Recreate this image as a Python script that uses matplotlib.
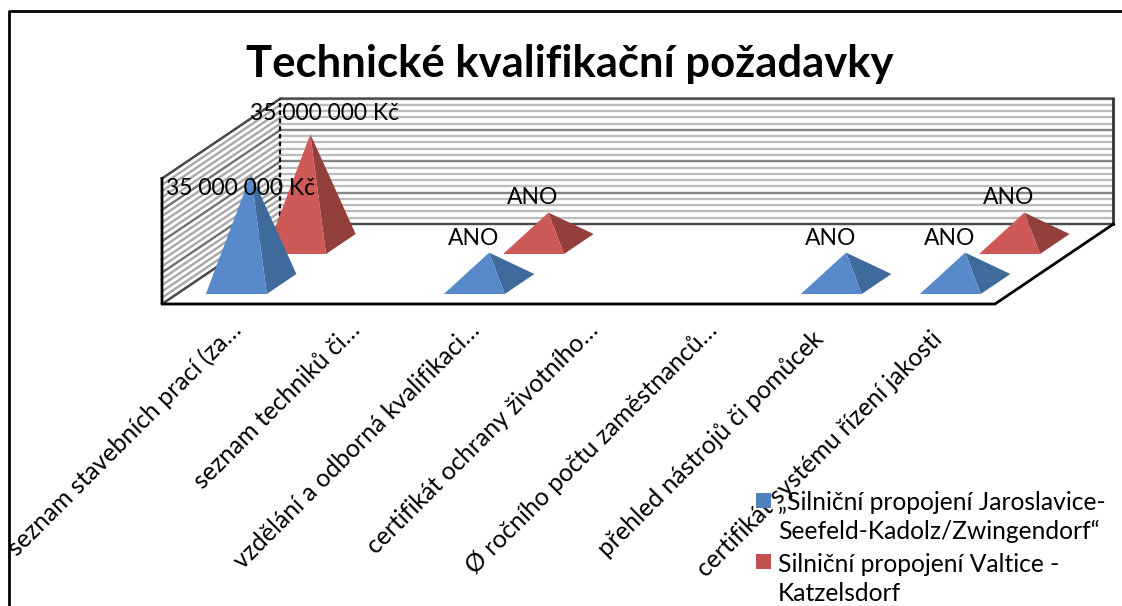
# Technical qualification requirements, 3D pyramid chart drawn by hand on a flat axes
import matplotlib
matplotlib.use("Agg")
import matplotlib.pyplot as plt
from matplotlib.patches import Polygon, Rectangle
import numpy as np

plt.rcParams['font.family'] = ['Lato', 'DejaVu Sans']

categories = ["seznam stavebních prací (za…", "seznam techniků či…",
              "vzdělání a odborná kvalifikaci…", "certifikát ochrany životního…",
              "Ø ročního počtu zaměstnanců…", "přehled nástrojů či pomůcek",
              "certifikát systému řízení jakosti"]
series_names = ["„Silniční propojení Jaroslavice-\nSeefeld-Kadolz/Zwingendorf“",
                "Silniční propojení Valtice -\nKatzelsdorf"]
# ANO bars are plotted at 10 mil., None = no bar
jaroslavice = [35000000, None, 10000000, None, None, 10000000, 10000000]
valtice = [35000000, None, 10000000, None, None, None, 10000000]
jaroslavice_labels = ["35 000 000 Kč", "", "ANO", "", "", "ANO", "ANO"]
valtice_labels = ["35 000 000 Kč", "", "ANO", "", "", "", "ANO"]
axis_max = 40000000
minor_step = 2000000
major_step = 10000000

# Chart box in pixels
left, right, floor_y = 162, 995, 304
depth_dx, depth_dy = 118.5, 80
wall_height = 125.5
half_w, half_d = 0.256, 0.125


def project(cat, depth, value=0):
    # cat in category units, depth 0..1 front to back
    x = left + (right - left) / len(categories) * cat + depth_dx * depth
    y = floor_y - depth_dy * depth - wall_height * value / axis_max
    return x, y


fig = plt.figure(figsize=(11.22, 6.06), dpi=100)
ax = fig.add_axes([0, 0, 1, 1])
ax.set_xlim(0, 1122)
ax.set_ylim(606, 0)
ax.axis('off')
n = len(categories)

# Outer frame
ax.plot([9, 9, 1122], [606, 11, 11], color='black', linewidth=2, zorder=1)

# Stripes on both walls
for v in np.arange(0, axis_max + 1, minor_step):
    major = v % major_step == 0
    back = [project(0, 1, v), project(n, 1, v)]
    side = [project(0, 0, v), project(0, 1, v)]
    ax.plot(*zip(*back), color='#858585' if major else '#bdbdbd', linewidth=1.7, zorder=2)
    ax.plot(*zip(*side), color='#707070' if major else '#a8a8a8', linewidth=1.7, zorder=2)

# Wall and floor edges
ax.plot(*zip(project(0, 0, axis_max), project(0, 1, axis_max), project(n, 1, axis_max)),
        color='#4a4a4a', linewidth=1.6, zorder=3)
ax.plot(*zip(project(0, 0), project(0, 1), project(n, 1)), color='#4a4a4a', linewidth=1.6, zorder=3)
ax.plot(*zip(project(n, 1), project(n, 1, axis_max)), color='#333333', linewidth=2, zorder=3)
ax.plot(*zip(project(0, 1), project(0, 1, axis_max)), color='black', linewidth=1.6,
        linestyle=(0, (2, 1.5)), zorder=3)
ax.plot(*zip(project(0, 0, axis_max), project(0, 0), project(n, 0), project(n, 1)),
        color='black', linewidth=2, zorder=3)


def pyramid(cat, depth, value, front_col, side_col, z):
    fl = project(cat - half_w, depth - half_d)
    fr = project(cat + half_w, depth - half_d)
    br = project(cat + half_w, depth + half_d)
    apex = project(cat, depth, value)
    ax.add_patch(Polygon([fr, br, apex], closed=True, facecolor=side_col, edgecolor='none', zorder=z))
    ax.add_patch(Polygon([fl, fr, apex], closed=True, facecolor=front_col, edgecolor='none', zorder=z))
    return apex


# Back row first so the front row covers it
for i, v in enumerate(valtice):
    if v is None:
        continue
    apex = pyramid(i + 0.5, 0.75, v, '#CE5A57', '#93403D', 4)
    off = (14, -21) if v > major_step else (-16, -15)
    ax.text(apex[0] + off[0], apex[1] + off[1], valtice_labels[i], fontsize=16.5, ha='center',
            va='center', color='black', zorder=7)
for i, v in enumerate(jaroslavice):
    if v is None:
        continue
    apex = pyramid(i + 0.5, 0.25, v, '#5889CB', '#3F6A9C', 5)
    off = (-11, 14) if v > major_step else (-15, -14)
    ax.text(apex[0] + off[0], apex[1] + off[1], jaroslavice_labels[i], fontsize=16.5, ha='center',
            va='center', color='black', zorder=7)

# Category labels, the untruncated ones sit a bit lower
for i, name in enumerate(categories):
    x, _ = project(i + 0.5, 0)
    shift = (0, 0) if name.endswith('…') else (-13, 9)
    ax.text(x + 16 + shift[0], 326 + shift[1], name, rotation=45, rotation_mode='anchor', ha='right',
            va='center', fontsize=17.8, color='black', zorder=8)

ax.text(570, 64, "Technické kvalifikační požadavky", fontsize=31.4, fontweight='bold', ha='center',
        va='center', color='black', zorder=8)

# Legend, text wraps over two lines for each entry
ax.add_patch(Rectangle((756, 493), 15, 15, facecolor='#4F81BD', edgecolor='none', zorder=8))
ax.add_patch(Rectangle((756, 554), 15, 15, facecolor='#C0504D', edgecolor='none', zorder=8))
ax.text(778, 517, series_names[0], fontsize=17.7, ha='left', va='center', linespacing=1.3, zorder=8)
ax.text(778, 579, series_names[1], fontsize=17.7, ha='left', va='center', linespacing=1.3, zorder=8)

fig.savefig("out.png", dpi=100)
